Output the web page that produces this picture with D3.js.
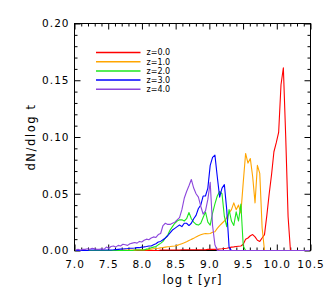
<!DOCTYPE html>
<html><head><meta charset="utf-8">
<script src="https://cdn.jsdelivr.net/npm/d3@7"></script>
<style>body{margin:0;background:#fff}svg{display:block}</style>
</head><body><svg id="c" width="332" height="299"></svg>
<script>
// histogram bins in log t: 100 bins of width 0.035 starting at 7.0
const binLo = 7.0, binWidth = 0.035;

const redZ0 = [
0,0,0,0,0,0,0,0,0,0,
0,0,0,0,0,0,0,0,0,0,
0,0,0,0,0,0,0,0,0,0,
0,0,0,0,0,0,0.0005,0.0005,0.0005,0.0005,
0.0005,0.0005,0.0005,0.0005,0.0005,0.0007,0.0007,0.0007,0.0007,0.0007,
0.0007,0.0007,0.0007,0.0007,0.0007,0.0007,0.001,0.001,0.001,0.001,
0.001,0.0013,0.0015,0.0018,0.002,0.0025,0.003,0.0032,0.0035,0.0038,
0.004,0.0055,0.010,0.011,0.013,0.014,0.012,0.009,0.008,0.011,
0.014,0.031,0.050,0.067,0.087,0.095,0.104,0.146,0.161,0.100,
0.030,0,0,0,0,0,0,0,0,0];

const orangeZ1 = [
0,0,0,0,0,0,0,0,0,0,
0,0,0,0,0,0,0,0,0,0,
0.0003,0.0003,0.0003,0.0003,0.0003,0.0003,0.0006,0.0006,0.0006,0.0006,
0.0008,0.001,0.0012,0.0015,0.0018,0.002,0.0023,0.0026,0.003,0.0033,
0.0035,0.0038,0.004,0.0045,0.0052,0.006,0.0068,0.0077,0.0088,0.0098,
0.0107,0.012,0.013,0.0138,0.0145,0.015,0.0148,0.015,0.016,0.0165,
0.0195,0.022,0.024,0.026,0.029,0.033,0.036,0.042,0.036,0.040,
0.033,0.060,0.0855,0.077,0.081,0.065,0.042,0.075,0.068,0.020,
0,0,0,0,0,0,0,0,0,0,
0,0,0,0,0,0,0,0,0,0];

const greenZ2 = [
0,0,0,0,0,0,0,0,0,0,
0,0,0,0,0,0,0,0,0,0,
0,0,0,0,0,0.0005,0.0005,0.0005,0.0005,0.0005,
0.0012,0.0015,0.0025,0.003,0.0035,0.005,0.0063,0.008,0.011,0.0136,
0.018,0.021,0.024,0.026,0.027,0.027,0.026,0.028,0.0335,0.028,
0.025,0.023,0.0224,0.024,0.029,0.034,0.025,0.0224,0.033,0.041,
0.048,0.052,0.050,0.030,0.021,0.036,0.026,0.022,0.034,0.026,
0.041,0.004,0,0,0,0,0,0,0,0,
0,0,0,0,0,0,0,0,0,0,
0,0,0,0,0,0,0,0,0,0];

const blueZ3 = [
0,0,0,0,0,0,0.0005,0.0005,0.0005,0.0005,
0.0005,0.0005,0.0005,0.0005,0.0005,0.0005,0.0006,0.0008,0.001,0.0012,
0.0013,0.0015,0.0017,0.002,0.002,0.0022,0.0025,0.0025,0.003,0.0032,
0.0035,0.004,0.004,0.005,0.006,0.0075,0.008,0.0095,0.011,0.013,
0.0155,0.018,0.0195,0.021,0.0224,0.021,0.024,0.024,0.022,0.024,
0.028,0.031,0.037,0.040,0.048,0.048,0.055,0.075,0.082,0.084,
0.065,0.047,0.055,0.058,0.036,0.003,0,0,0,0,
0,0,0,0,0,0,0,0,0,0,
0,0,0,0,0,0,0,0,0,0,
0,0,0,0,0,0,0,0,0,0];

const purpleZ4 = [
0.0005,0.001,0.0005,0.001,0.001,0.0015,0.001,0.002,0.0015,0.001,
0.001,0.0015,0.001,0.003,0.002,0.0035,0.004,0.003,0.0045,0.004,
0.0055,0.005,0.0045,0.006,0.0065,0.007,0.0065,0.008,0.0075,0.009,
0.010,0.0095,0.011,0.012,0.0115,0.014,0.015,0.022,0.024,0.023,
0.023,0.024,0.025,0.027,0.029,0.036,0.046,0.052,0.057,0.0626,
0.055,0.050,0.047,0.039,0.032,0.035,0.045,0.060,0.022,0.005,
0,0,0,0,0,0,0,0,0,0,
0,0,0,0,0,0,0,0,0,0,
0,0,0,0,0,0,0,0,0,0,
0,0,0,0,0,0,0,0,0,0];

const seriesLabels = ["z=0.0","z=1.0","z=2.0","z=3.0","z=4.0"];
const seriesValues = [redZ0, orangeZ1, greenZ2, blueZ3, purpleZ4];
const seriesColors = ["#ff0000","#ffa500","#1ee61e","#0000ff","#8c46dc"];

const xMajorTicks = [7.0,7.5,8.0,8.5,9.0,9.5,10.0,10.5];
const xMinorTicks = [7.1,7.2,7.3,7.4,7.6,7.7,7.8,7.9,8.1,8.2,8.3,8.4,8.6,8.7,8.8,8.9,9.1,9.2,9.3,9.4,9.6,9.7,9.8,9.9,10.1,10.2,10.3,10.4];
const yMajorTicks = [0,0.05,0.10,0.15,0.20];
const yMinorTicks = [0.01,0.02,0.03,0.04,0.06,0.07,0.08,0.09,0.11,0.12,0.13,0.14,0.16,0.17,0.18,0.19];
const xTitle = "log t [yr]";
const yTitle = "dN/dlog t";

const svg = d3.select("#c");
const FONT = "'DejaVu Sans', sans-serif";
const L = 74.5, R = 310.5, T = 23.5, B = 250.5;
const x = d3.scaleLinear().domain([7, 10.5]).range([L, R]);
const y = d3.scaleLinear().domain([0, 0.2]).range([B, T]);

function styleAxis(g, labels) {
  g.select(".domain").remove();
  g.selectAll(".tick line").attr("stroke", "#000");
  g.selectAll("text").attr("fill", "#000")
    .attr("font-family", FONT).attr("font-size", "10.5px")
    .attr("letter-spacing", "1px");
  if (!labels) g.selectAll("text").remove();
}

// major + minor ticks on all four sides (inward)
svg.append("g").attr("transform", `translate(0,${B})`)
  .call(d3.axisBottom(x).tickValues(xMajorTicks).tickSize(-6).tickSizeOuter(0).tickPadding(10).tickFormat(d3.format(".1f")))
  .call(g => styleAxis(g, true));
svg.append("g").attr("transform", `translate(0,${B})`)
  .call(d3.axisBottom(x).tickValues(xMinorTicks).tickSize(-3).tickSizeOuter(0))
  .call(g => styleAxis(g, false));
svg.append("g").attr("transform", `translate(0,${T})`)
  .call(d3.axisTop(x).tickValues(xMajorTicks).tickSize(-6).tickSizeOuter(0))
  .call(g => styleAxis(g, false));
svg.append("g").attr("transform", `translate(0,${T})`)
  .call(d3.axisTop(x).tickValues(xMinorTicks).tickSize(-3).tickSizeOuter(0))
  .call(g => styleAxis(g, false));
svg.append("g").attr("transform", `translate(${L},0)`)
  .call(d3.axisLeft(y).tickValues(yMajorTicks).tickSize(-6).tickSizeOuter(0).tickPadding(5).tickFormat(d3.format(".2f")))
  .call(g => styleAxis(g, true));
svg.append("g").attr("transform", `translate(${L},0)`)
  .call(d3.axisLeft(y).tickValues(yMinorTicks).tickSize(-3).tickSizeOuter(0))
  .call(g => styleAxis(g, false));
svg.append("g").attr("transform", `translate(${R},0)`)
  .call(d3.axisRight(y).tickValues(yMajorTicks).tickSize(-6).tickSizeOuter(0))
  .call(g => styleAxis(g, false));
svg.append("g").attr("transform", `translate(${R},0)`)
  .call(d3.axisRight(y).tickValues(yMinorTicks).tickSize(-3).tickSizeOuter(0))
  .call(g => styleAxis(g, false));

svg.append("rect").attr("x", L).attr("y", T).attr("width", R - L).attr("height", B - T)
  .attr("fill", "none").attr("stroke", "#000").attr("stroke-width", 1);

// data lines
const line = d3.line()
  .x((d, i) => x(binLo + binWidth * (i + 0.5)))
  .y(d => y(d));
seriesValues.forEach((vals, s) => {
  svg.append("path").datum(vals).attr("d", line)
    .attr("fill", "none").attr("stroke", seriesColors[s]).attr("stroke-width", 1.1)
    .attr("stroke-linejoin", "round");
});

// legend
const legend = svg.append("g");
seriesLabels.forEach((lab, s) => {
  const ly = 52.5 + s * 9.2;
  legend.append("line").attr("x1", 96).attr("x2", 140.5).attr("y1", ly).attr("y2", ly)
    .attr("stroke", seriesColors[s]).attr("stroke-width", 1.5);
  legend.append("text").attr("x", 146.5).attr("y", ly).attr("dy", "0.35em")
    .attr("font-family", FONT).attr("font-size", "8px").attr("fill", "#000").text(lab);
});

// axis titles
svg.append("text").attr("x", (L + R) / 2).attr("y", 284)
  .attr("text-anchor", "middle").attr("font-family", FONT).attr("font-size", "11.5px")
  .attr("letter-spacing", "1px").attr("fill", "#000").text(xTitle);
svg.append("text").attr("transform", `translate(35,${(T + B) / 2}) rotate(-90)`)
  .attr("text-anchor", "middle").attr("font-family", FONT).attr("font-size", "11.5px")
  .attr("letter-spacing", "1.6px").attr("fill", "#000").text(yTitle);
</script></body></html>
